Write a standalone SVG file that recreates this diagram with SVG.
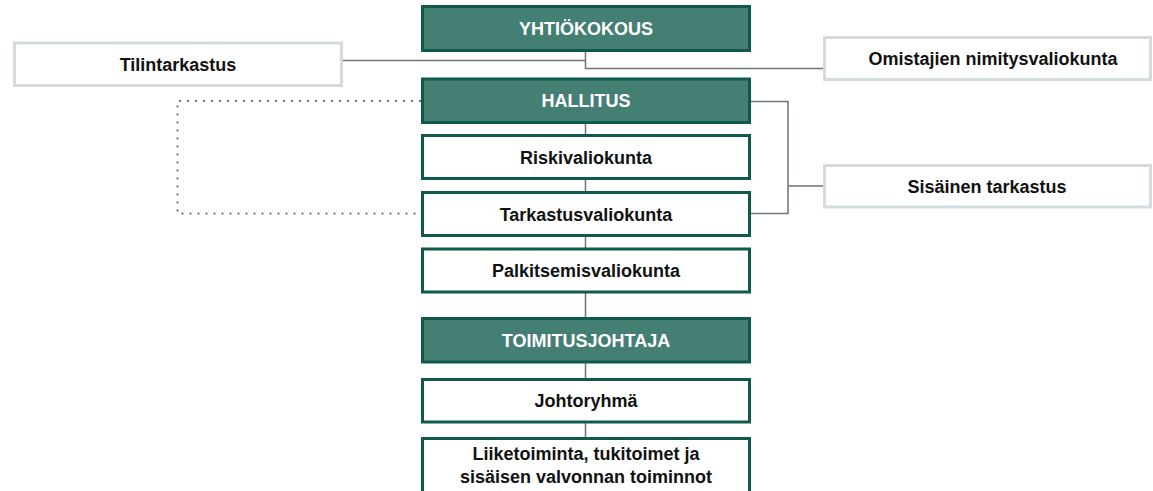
<svg xmlns="http://www.w3.org/2000/svg" width="1153" height="491" viewBox="0 0 1153 491">
<style>
.dark{fill:#447f74;stroke:#0f5a4a;stroke-width:3}
.main{fill:#ffffff;stroke:#0f5a4a;stroke-width:3}
.side{fill:#ffffff;stroke:#d4dbde;stroke-width:3}
.lbl{font-family:"Liberation Sans",Arial,sans-serif;font-weight:bold;font-size:18px;text-anchor:middle;fill:#111111}
.wl{fill:#ffffff}
.ln{fill:none;stroke:#6b7479;stroke-width:1.5}
.dot{fill:none;stroke:#6b7479;stroke-width:2;stroke-dasharray:2 6}
</style>
<rect width="1153" height="491" fill="#ffffff"/>
<g id="connectors">
<line class="ln" x1="585.5" y1="124" x2="585.5" y2="437"/>
<polyline class="ln" points="343,60.5 585.5,60.5"/>
<polyline class="ln" points="585.5,52 585.5,68.5 823,68.5"/>
<polyline class="ln" points="751,101.5 788,101.5 788,213.5 751,213.5"/>
<line class="ln" x1="788" y1="186" x2="823" y2="186"/>
<polyline class="dot" points="421,101 177.5,101 177.5,213.5 421,213.5"/>
</g>
<g id="yhtiokokous"><rect class="dark" x="422.5" y="6.5" width="327" height="44"/><text class="lbl wl" x="586" y="35">YHTIÖKOKOUS</text></g>
<g id="tilintarkastus"><rect class="side" x="14.5" y="43" width="327" height="42.5"/><text class="lbl" x="178" y="70.5">Tilintarkastus</text></g>
<g id="omistajien"><rect class="side" x="824.5" y="37.5" width="326" height="42"/><text class="lbl" x="993" y="65">Omistajien nimitysvaliokunta</text></g>
<g id="hallitus"><rect class="dark" x="422.5" y="79" width="327" height="43.5"/><text class="lbl wl" x="586" y="107.3">HALLITUS</text></g>
<g id="riskivaliokunta"><rect class="main" x="422.5" y="135.5" width="327" height="43"/><text class="lbl" x="586" y="163.5">Riskivaliokunta</text></g>
<g id="tarkastusvaliokunta"><rect class="main" x="422.5" y="192.5" width="327" height="43"/><text class="lbl" x="586" y="220.5">Tarkastusvaliokunta</text></g>
<g id="sisainen"><rect class="side" x="824.5" y="165.5" width="326" height="41.5"/><text class="lbl" x="987" y="192.5">Sisäinen tarkastus</text></g>
<g id="palkitsemisvaliokunta"><rect class="main" x="422.5" y="249" width="327" height="43"/><text class="lbl" x="586" y="277">Palkitsemisvaliokunta</text></g>
<g id="toimitusjohtaja"><rect class="dark" x="422.5" y="318.5" width="327" height="43.5"/><text class="lbl wl" x="586" y="346.5">TOIMITUSJOHTAJA</text></g>
<g id="johtoryhma"><rect class="main" x="422.5" y="379.5" width="327" height="42.5"/><text class="lbl" x="586" y="407.3">Johtoryhmä</text></g>
<g id="liiketoiminta"><rect class="main" x="422.5" y="438.5" width="327" height="60"/><text class="lbl" x="586" y="460">Liiketoiminta, tukitoimet ja</text><text class="lbl" x="586" y="483">sisäisen valvonnan toiminnot</text></g>
</svg>
